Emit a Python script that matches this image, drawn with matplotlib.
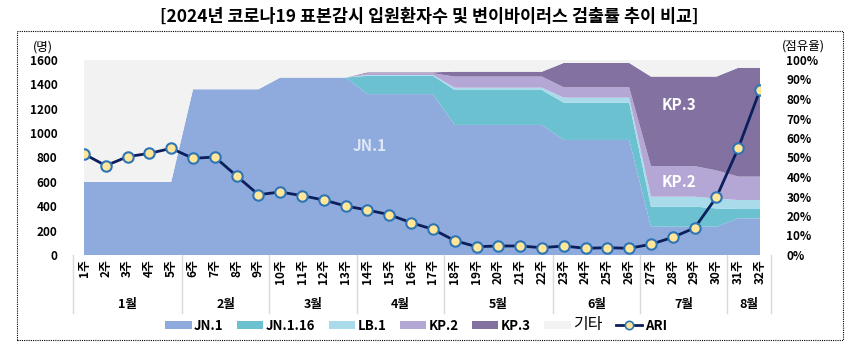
import matplotlib
matplotlib.use("Agg")
import matplotlib.pyplot as plt
import matplotlib.transforms as mtransforms
from matplotlib.patches import Rectangle, Patch
from matplotlib.lines import Line2D

plt.rcParams['font.family'] = ['Noto Sans CJK KR', 'DejaVu Sans']

weeks = list(range(1, 33))
week_labels = [f"{w}주" for w in weeks]
months = ["1월", "2월", "3월", "4월", "5월", "6월", "7월", "8월"]
month_bounds = [0.5, 5.5, 9.5, 13.5, 17.5, 22.5, 26.5, 30.5, 32.5]

# variant shares (%)
jn1 = [37.5, 37.5, 37.5, 37.5, 37.5, 85, 85, 85, 85, 91, 91, 91, 91,
       82.5, 82.5, 82.5, 82.5, 66.7, 66.7, 66.7, 66.7, 66.7,
       59, 59, 59, 59, 14.5, 14.5, 14.5, 14.5, 18.8, 18.8]
jn116 = [0, 0, 0, 0, 0, 0, 0, 0, 0, 0, 0, 0, 0,
         9.4, 9.4, 9.4, 9.4, 17.9, 17.9, 17.9, 17.9, 17.9,
         19.1, 19.1, 19.1, 19.1, 10.3, 10.3, 10.3, 9.4, 4.8, 4.8]
lb1 = [0, 0, 0, 0, 0, 0, 0, 0, 0, 0, 0, 0, 0,
       0.4, 0.4, 0.4, 0.4, 1.2, 1.2, 1.2, 1.2, 1.2,
       2.6, 2.6, 2.6, 2.6, 5.1, 5.1, 5.1, 5.0, 4.6, 4.6]
kp2 = [0, 0, 0, 0, 0, 0, 0, 0, 0, 0, 0, 0, 0,
       0.9, 0.9, 0.9, 0.9, 5.7, 5.7, 5.7, 5.7, 5.7,
       5.3, 5.3, 5.3, 5.3, 15.7, 15.7, 15.7, 14.5, 12.0, 12.0]
kp3 = [0, 0, 0, 0, 0, 0, 0, 0, 0, 0, 0, 0, 0,
       0.5, 0.5, 0.5, 0.5, 2.5, 2.5, 2.5, 2.5, 2.5,
       12.5, 12.5, 12.5, 12.5, 45.9, 45.9, 45.9, 48.1, 55.8, 55.8]
other = [62.5, 62.5, 62.5, 62.5, 62.5, 15, 15, 15, 15, 9, 9, 9, 9,
         6.3, 6.3, 6.3, 6.3, 6.0, 6.0, 6.0, 6.0, 6.0,
         1.5, 1.5, 1.5, 1.5, 8.5, 8.5, 8.5, 8.5, 4.0, 4.0]

# ARI inpatients
ari = [829, 733, 807, 834, 875, 793, 804, 648, 495, 517, 487, 451, 402, 369, 331, 265,
       211, 118, 68, 74, 74, 60, 74, 55, 60, 55, 88, 145, 222, 473, 875, 1354]

series_names = ["JN.1", "JN.1.16", "LB.1", "KP.2", "KP.3", "기타"]
colors = ["#8faadc", "#6cc1d0", "#a9dbea", "#b4a7d6", "#8371a1", "#f2f2f2"]

fig = plt.figure(figsize=(8.58, 3.52), dpi=100)
ax = fig.add_axes([84 / 858, 97 / 352, 676 / 858, 195 / 352])
ax2 = ax.twinx()

ax2.stackplot(weeks, jn1, jn116, lb1, kp2, kp3, other, colors=colors, linewidth=0)
ax2.set_ylim(0, 100)
ax2.set_yticks(range(0, 101, 10))
ax2.set_yticklabels([f"{v}%" for v in range(0, 101, 10)], fontsize=8.5, fontweight='bold')
ax2.tick_params(axis='y', length=0, pad=19)

ax.set_zorder(ax2.get_zorder() + 1)
ax.patch.set_visible(False)
ax.plot(weeks, ari, color="#0b1f5c", linewidth=2, marker='o', markersize=7.5,
        markerfacecolor="#ffe699", markeredgecolor="#2e75b6", markeredgewidth=1.5, zorder=5)
ax.set_ylim(0, 1600)
ax.set_yticks(range(0, 1601, 200))
ax.set_yticklabels([str(v) for v in range(0, 1601, 200)], fontsize=8.5, fontweight='bold')
ax.tick_params(axis='y', length=0, pad=19)
ax.set_xlim(1, 32)
ax.set_xticks(weeks)
ax.set_xticklabels(week_labels, rotation=90, fontsize=8.5, fontweight='bold')
ax.tick_params(axis='x', length=0, pad=3)

for a in (ax, ax2):
    for s in a.spines.values():
        s.set_visible(False)

# month group labels and separators
trans = mtransforms.blended_transform_factory(ax.transData, ax.transAxes)
for b in month_bounds:
    ax.plot([b, b], [0, -0.297], color="#d9d9d9", linewidth=1, transform=trans, clip_on=False)
for i, m in enumerate(months):
    c = (month_bounds[i] + month_bounds[i + 1]) / 2
    ax.text(c, -0.252, m, transform=trans, ha='center', va='center',
            fontsize=9, fontweight='bold')

# labels inside the areas
ax2.text(14.1, 56, "JN.1", color="#dde7f5", fontsize=11, fontweight='bold', ha='center', va='center')
ax2.text(28.3, 77, "KP.3", color="white", fontsize=11, fontweight='bold', ha='center', va='center')
ax2.text(28.3, 37.5, "KP.2", color="white", fontsize=11, fontweight='bold', ha='center', va='center')

fig.text(43 / 858, 1 - 47 / 352, "(명)", fontsize=9, ha='center', va='center')
fig.text(803 / 858, 1 - 46 / 352, "(점유율)", fontsize=9, ha='center', va='center')
fig.text(0.5, 1 - 17 / 352, "[2024년 코로나19 표본감시 입원환자수 및 변이바이러스 검출률 추이 비교]",
         fontsize=12.5, fontweight='bold', ha='center', va='center')

# dotted frame
fig.patches.append(Rectangle((17 / 858, 12 / 352), 826 / 858, 309 / 352, transform=fig.transFigure,
                             fill=False, edgecolor='black', linestyle=(0, (1, 1)), linewidth=0.8))

handles = [Patch(facecolor=c, edgecolor='none') for c in colors]
handles.append(Line2D([], [], color="#0b1f5c", linewidth=2, marker='o', markersize=6,
                      markerfacecolor="#ffe699", markeredgecolor="#2e75b6", markeredgewidth=1.2))
labels = series_names + ["ARI"]
leg = fig.legend(handles, labels, loc='center', bbox_to_anchor=(416 / 858, 1 - 325 / 352), ncol=7,
                 frameon=False, fontsize=9.5, handlelength=2.0, handleheight=0.5,
                 handletextpad=0.2, columnspacing=1.0, borderaxespad=0)
for t in leg.get_texts():
    if t.get_text() != "기타":
        t.set_fontweight('bold')
    else:
        t.set_fontsize(11.5)

fig.savefig("out.png", dpi=100)
